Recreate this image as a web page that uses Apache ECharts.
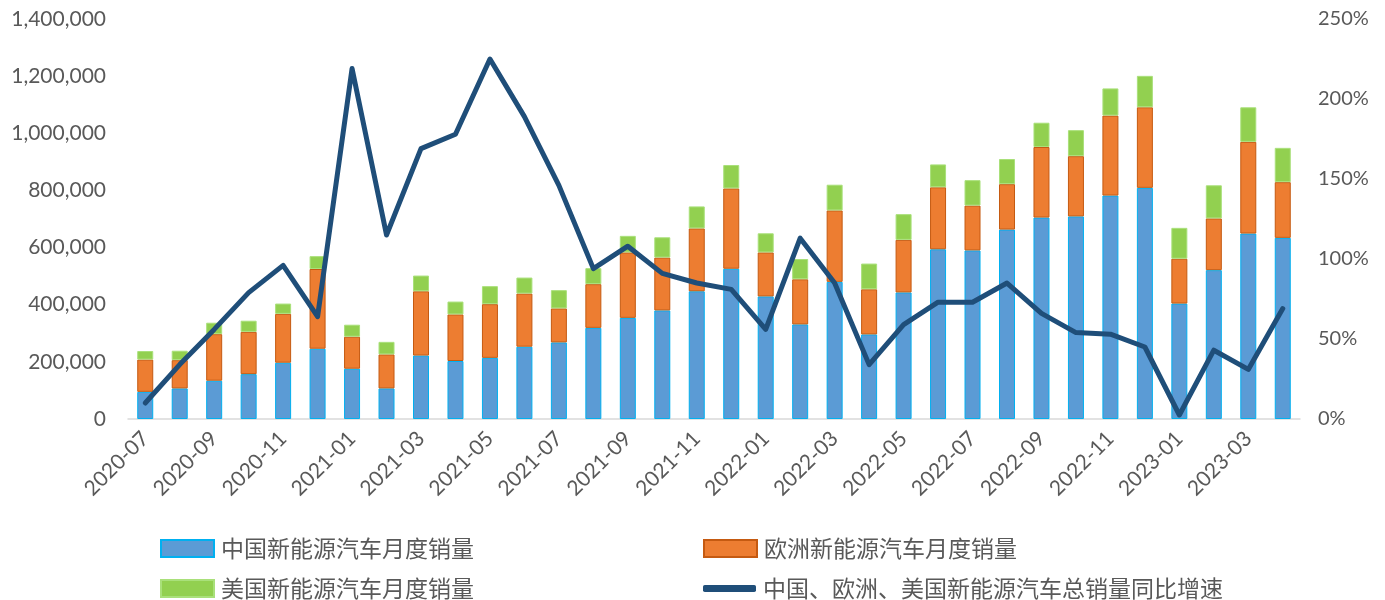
<!DOCTYPE html>
<html>
<head>
<meta charset="utf-8">
<script src="https://cdn.jsdelivr.net/npm/echarts@6/dist/echarts.min.js"></script>
<style>
  html, body { margin: 0; padding: 0; background: #fff; }
  #chart { width: 1385px; height: 600px; }
</style>
</head>
<body>
<div id="chart"></div>
<script>
const months = [
  '2020-07', '2020-08', '2020-09', '2020-10', '2020-11', '2020-12',
  '2021-01', '2021-02', '2021-03', '2021-04', '2021-05', '2021-06',
  '2021-07', '2021-08', '2021-09', '2021-10', '2021-11', '2021-12',
  '2022-01', '2022-02', '2022-03', '2022-04', '2022-05', '2022-06',
  '2022-07', '2022-08', '2022-09', '2022-10', '2022-11', '2022-12',
  '2023-01', '2023-02', '2023-03', '2023-04'
];

// 月度销量（辆）
const chinaSales = [
  95000, 107000, 134000, 157000, 197000, 246000,
  176000, 107000, 222000, 203000, 214000, 253000,
  268000, 319000, 354000, 380000, 447000, 526000,
  429000, 331000, 480000, 296000, 443000, 594000,
  590000, 663000, 705000, 709000, 782000, 809000,
  404000, 521000, 649000, 634000
];
const europeSales = [
  113000, 99000, 163000, 148000, 171000, 279000,
  112000, 119000, 225000, 163000, 188000, 186000,
  119000, 153000, 229000, 185000, 220000, 281000,
  154000, 158000, 250000, 158000, 184000, 217000,
  157000, 159000, 247000, 211000, 280000, 282000,
  157000, 181000, 321000, 195000
];
const usSales = [
  30000, 33000, 40000, 39000, 36000, 45000,
  42000, 44000, 55000, 45000, 63000, 56000,
  64000, 56000, 58000, 71000, 77000, 82000,
  67000, 71000, 90000, 90000, 90000, 80000,
  89000, 88000, 85000, 91000, 95000, 110000,
  108000, 116000, 121000, 120000
];
// 三地总销量同比增速（%）
const yoyGrowth = [
  10, 34, 56, 79, 96, 64,
  219, 115, 169, 178, 225, 189,
  146, 94, 108, 91, 85, 81,
  56, 113, 85, 34, 59, 73,
  73, 85, 66, 54, 53, 45,
  2.5, 43, 31, 69
];

const seriesNames = [
  '中国新能源汽车月度销量',
  '欧洲新能源汽车月度销量',
  '美国新能源汽车月度销量',
  '中国、欧洲、美国新能源汽车总销量同比增速'
];

const textColor = '#595959';
const fontFamily = 'Lato, "Noto Sans CJK SC", sans-serif';

const chart = echarts.init(document.getElementById('chart'), null, { renderer: 'canvas' });

function legendAt(name, left, top, isLine) {
  return {
    data: [name],
    left: left,
    top: top,
    padding: 0,
    itemWidth: 53,
    itemHeight: isLine ? 7 : 17,
    icon: isLine ? 'roundRect' : 'rect',
    selectedMode: false,
    textStyle: {
      color: textColor,
      fontSize: 23,
      fontFamily: '"Noto Sans CJK SC", sans-serif',
      padding: [0, 0, 0, 2]
    }
  };
}

const option = {
  backgroundColor: '#ffffff',
  animation: false,
  grid: {
    left: 128,
    right: 85,
    top: 19,
    bottom: 181
  },
  legend: [
    legendAt(seriesNames[0], 160, 537, false),
    legendAt(seriesNames[1], 703, 537, false),
    legendAt(seriesNames[2], 160, 577, false),
    legendAt(seriesNames[3], 703, 577, true)
  ],
  xAxis: {
    type: 'category',
    data: months,
    boundaryGap: true,
    axisLine: { lineStyle: { color: '#d9d9d9', width: 1.5 } },
    axisTick: { show: false },
    axisLabel: {
      interval: 1,
      rotate: 45,
      color: textColor,
      fontSize: 21,
      fontFamily: fontFamily,
      margin: 16
    }
  },
  yAxis: [
    {
      type: 'value',
      min: 0,
      max: 1400000,
      interval: 200000,
      splitLine: { show: false },
      axisLine: { show: false },
      axisTick: { show: false },
      axisLabel: {
        color: textColor,
        fontSize: 21,
        fontFamily: fontFamily,
        margin: 22,
        formatter: v => v.toLocaleString('en-US')
      }
    },
    {
      type: 'value',
      min: 0,
      max: 250,
      interval: 50,
      position: 'right',
      splitLine: { show: false },
      axisLine: { show: false },
      axisTick: { show: false },
      axisLabel: {
        color: textColor,
        fontSize: 20,
        fontFamily: fontFamily,
        margin: 18,
        formatter: v => v + '%'
      }
    }
  ],
  series: [
    {
      name: seriesNames[0],
      type: 'bar',
      stack: 'sales',
      barWidth: 16,
      data: chinaSales,
      itemStyle: { color: '#5b9bd5', borderColor: '#00b0f0', borderWidth: 1 }
    },
    {
      name: seriesNames[1],
      type: 'bar',
      stack: 'sales',
      barWidth: 16,
      data: europeSales,
      itemStyle: { color: '#ed7d31', borderColor: '#c55a11', borderWidth: 1 }
    },
    {
      name: seriesNames[2],
      type: 'bar',
      stack: 'sales',
      barWidth: 16,
      data: usSales,
      itemStyle: { color: '#92d050', borderColor: '#a9e07a', borderWidth: 1 }
    },
    {
      name: seriesNames[3],
      type: 'line',
      yAxisIndex: 1,
      data: yoyGrowth,
      symbol: 'none',
      z: 5,
      itemStyle: { color: '#1f4e79' },
      lineStyle: { color: '#1f4e79', width: 5, join: 'round', cap: 'round' }
    }
  ]
};

chart.setOption(option);
window.addEventListener('resize', () => chart.resize());
</script>
</body>
</html>
